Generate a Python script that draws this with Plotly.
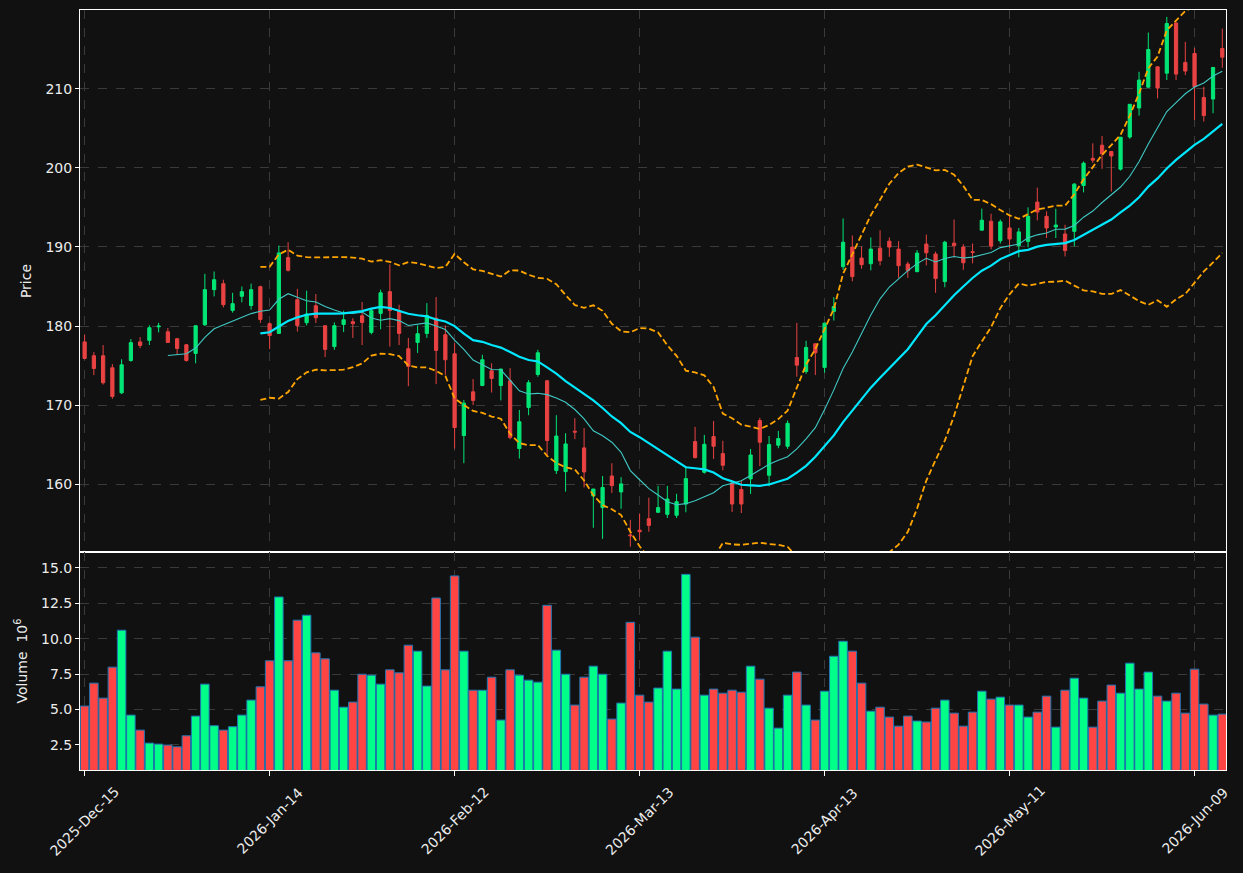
import numpy as np
import pandas as pd
import plotly.graph_objects as go
from plotly.subplots import make_subplots

# ---------------- data ----------------
tick_positions = [0, 20, 40, 60, 80, 100, 120]
tick_labels = ["2025-Dec-15", "2026-Jan-14", "2026-Feb-12", "2026-Mar-13",
               "2026-Apr-13", "2026-May-11", "2026-Jun-09"]

open_ = [178.0, 176.25, 176.25, 174.73, 171.56, 175.65, 178.0, 178.19, 179.9, 179.28,
         178.4, 177.64, 176.54, 180.17, 184.6, 185.36, 181.98, 183.76, 182.6, 184.98,
         180.3, 179.07, 188.65, 183.33, 180.42, 182.57, 180.04, 177.4, 180.2, 180.55,
         181.3, 179.2, 181.6, 184.35, 181.94, 177.13, 177.93, 179.07, 181.0, 178.9,
         176.5, 166.16, 171.69, 172.49, 174.35, 172.49, 173.08, 164.51, 169.7, 173.88,
         173.08, 161.73, 161.6, 166.7, 164.6, 158.52, 157.05, 161.05, 159.03, 153.6,
         154.2, 155.65, 156.46, 156.2, 156.08, 157.5, 165.4, 161.52, 166.03, 163.88,
         160.17, 159.33, 160.68, 168.06, 161.14, 164.94, 164.8, 176.03, 174.26, 177.76,
         174.77, 181.85, 187.5, 189.98, 188.6, 187.88, 189.85, 190.73, 189.73, 187.84,
         186.88, 190.36, 189.1, 185.62, 190.48, 189.98, 189.4, 192.12, 193.25, 190.78,
         192.4, 190.17, 190.7, 195.67, 193.87, 192.52, 191.64, 191.97, 197.77, 201.2,
         202.86, 202.06, 199.83, 203.9, 207.56, 210.2, 212.77, 211.97, 218.32, 213.32,
         214.45, 208.9, 208.7, 215.08]
high = [178.9, 176.7, 177.6, 175.2, 175.8, 178.35, 178.6, 180.1, 180.4, 179.75,
        178.5, 177.7, 180.1, 186.6, 186.9, 185.86, 184.2, 185.0, 185.36, 185.1,
        180.46, 190.17, 190.6, 184.7, 184.47, 184.05, 180.1, 180.46, 181.94, 181.0,
        183.04, 182.2, 184.6, 187.8, 182.7, 178.5, 180.08, 182.9, 183.67, 180.08,
        177.85, 170.67, 173.3, 176.37, 175.3, 174.6, 174.68, 169.4, 173.16, 177.0,
        173.2, 168.73, 166.46, 168.35, 167.1, 159.4, 161.05, 162.66, 160.9, 155.5,
        156.3, 158.3, 159.8, 159.8, 158.8, 162.3, 167.26, 166.24, 168.0, 165.5,
        160.2, 160.4, 164.47, 168.4, 166.1, 166.75, 168.06, 180.4, 178.14, 177.8,
        180.4, 183.65, 193.6, 191.45, 190.06, 191.2, 192.1, 191.2, 190.73, 188.13,
        189.6, 191.57, 189.4, 190.78, 193.46, 190.36, 190.44, 194.84, 194.2, 193.46,
        193.86, 192.4, 195.0, 197.5, 194.5, 194.83, 192.8, 198.07, 200.8, 203.1,
        204.03, 202.1, 203.9, 208.05, 212.14, 217.1, 212.8, 219.08, 218.35, 215.92,
        215.17, 210.25, 212.7, 217.6]
low = [175.8, 173.8, 172.6, 170.8, 171.4, 175.5, 177.2, 177.6, 179.2, 177.85,
       176.4, 175.5, 175.3, 180.0, 183.75, 182.36, 181.7, 183.0, 182.07, 180.4,
       177.1, 179.0, 186.9, 179.3, 180.08, 180.38, 176.08, 177.0, 179.24, 178.5,
       177.6, 178.95, 179.6, 177.4, 177.6, 172.4, 176.6, 178.5, 172.66, 173.84,
       164.5, 162.66, 170.0, 172.4, 171.6, 170.6, 165.7, 163.25, 168.73, 173.6,
       163.5, 161.3, 159.07, 165.7, 159.6, 154.5, 153.1, 158.9, 156.9, 152.1,
       152.95, 154.0, 156.4, 155.74, 155.74, 156.46, 163.25, 161.35, 163.2, 161.77,
       156.5, 156.37, 158.78, 162.3, 159.75, 164.56, 164.47, 173.6, 173.97, 173.8,
       174.1, 180.7, 187.1, 185.66, 187.25, 187.04, 187.67, 188.76, 186.1, 186.1,
       186.8, 187.67, 184.2, 184.9, 188.68, 187.1, 187.92, 192.1, 189.7, 190.44,
       189.87, 188.7, 189.96, 193.36, 191.13, 191.13, 188.8, 190.08, 196.9, 200.6,
       199.87, 197.0, 199.66, 203.66, 206.6, 210.1, 208.78, 211.1, 211.1, 211.72,
       206.05, 205.84, 206.9, 212.65]
close = [175.9, 174.64, 172.83, 171.1, 175.1, 177.9, 177.55, 179.79, 180.0, 177.93,
         177.17, 175.65, 180.04, 184.6, 185.86, 182.7, 182.83, 184.35, 184.6, 180.84,
         178.8, 189.24, 187.05, 180.08, 181.52, 181.05, 177.05, 180.04, 180.8, 180.3,
         180.46, 181.94, 184.2, 181.98, 179.07, 174.9, 179.03, 181.35, 176.92, 175.74,
         167.17, 170.25, 170.6, 175.74, 173.38, 174.56, 165.9, 167.9, 172.84, 176.62,
         165.53, 166.1, 165.1, 166.6, 161.56, 159.4, 159.6, 159.83, 160.05, 153.5,
         154.0, 154.8, 157.05, 158.14, 157.8, 160.72, 163.38, 165.05, 164.8, 162.4,
         157.5, 157.5, 163.7, 165.32, 165.02, 165.78, 167.7, 175.06, 177.3, 176.62,
         180.37, 182.47, 190.6, 186.25, 187.76, 189.73, 188.26, 189.98, 187.63, 187.0,
         189.22, 189.26, 186.0, 190.6, 190.15, 188.0, 189.3, 193.38, 190.1, 193.17,
         191.0, 191.9, 193.87, 194.41, 192.4, 192.77, 189.54, 197.94, 200.59, 200.97,
         201.76, 201.5, 203.87, 208.03, 211.09, 214.96, 210.08, 218.24, 211.85, 212.23,
         210.25, 206.6, 212.69, 213.99]
volume_millions = [5.24, 6.86, 5.8, 7.99, 10.6, 4.6, 3.54, 2.62, 2.55, 2.48,
                   2.36, 3.14, 4.53, 6.79, 3.85, 3.54, 3.78, 4.6, 5.66, 6.6,
                   8.44, 12.95, 8.44, 11.31, 11.66, 9.0, 8.58, 6.36, 5.16, 5.52,
                   7.49, 7.42, 6.79, 7.8, 7.59, 9.54, 9.12, 6.65, 12.88, 7.8,
                   14.44, 9.12, 6.36, 6.36, 7.28, 4.25, 7.8, 7.42, 7.07, 6.93,
                   12.36, 9.19, 7.49, 5.31, 7.28, 8.06, 7.49, 4.32, 5.45, 11.16,
                   6.01, 5.52, 6.51, 9.12, 6.44, 14.55, 10.11, 6.01, 6.44, 6.15,
                   6.36, 6.22, 8.06, 7.14, 5.09, 3.68, 6.01, 7.64, 5.31, 4.25,
                   6.29, 8.76, 9.82, 9.12, 6.86, 4.88, 5.16, 4.46, 3.82, 4.53,
                   4.18, 4.11, 5.09, 5.66, 4.74, 3.82, 4.81, 6.29, 5.73, 5.87,
                   5.31, 5.31, 4.46, 4.81, 5.94, 3.75, 6.36, 7.21, 5.8, 3.75,
                   5.59, 6.72, 6.15, 8.27, 6.44, 7.64, 5.94, 5.59, 6.15, 4.74,
                   7.85, 5.38, 4.6, 4.67]

# ---------------- styles ----------------
BG = "#111111"
TXT = "#ececec"
GRID = "#3a3a3a"
UP_C, DN_C = "#00e676", "#e84242"
UP_V, DN_V = "#00ff88", "#ff4444"
FONT = "DejaVu Sans"

n = len(close)
x = list(range(n))
s = pd.Series(close)
ma10 = s.rolling(10).mean()
ma20 = s.rolling(20).mean()
sd20 = s.rolling(20).std()
upper = ma20 + 2 * sd20
lower = ma20 - 2 * sd20

def valid(series):
    idx = [i for i in x if not np.isnan(series[i])]
    return idx, [float(series[i]) for i in idx]

fig = make_subplots(rows=2, cols=1, shared_xaxes=True, vertical_spacing=0,
                    row_heights=[542 / 760, 218 / 760])

fig.add_trace(go.Candlestick(
    x=x, open=open_, high=high, low=low, close=close,
    increasing=dict(line=dict(color=UP_C, width=1), fillcolor=UP_C),
    decreasing=dict(line=dict(color=DN_C, width=1), fillcolor=DN_C),
    whiskerwidth=0, showlegend=False, hoverinfo="skip"), row=1, col=1)

for ser, col, w, dash in [(upper, "#ffa500", 1.8, "6px,3px"),
                          (lower, "#ffa500", 1.8, "6px,3px"),
                          (ma10, "#3fc9c4", 1.1, "solid"),
                          (ma20, "#00e8ff", 2.2, "solid")]:
    xi, yi = valid(ser)
    fig.add_trace(go.Scatter(x=xi, y=yi, mode="lines",
                             line=dict(color=col, width=w, dash=dash),
                             showlegend=False, hoverinfo="skip"), row=1, col=1)

vcolors = [UP_V if c >= o else DN_V for o, c in zip(open_, close)]
fig.add_trace(go.Bar(x=x, y=volume_millions, marker=dict(color=vcolors,
                     line=dict(color="#1f77b4", width=1)),
                     showlegend=False, hoverinfo="skip"), row=2, col=1)

axis_common = dict(showline=True, linecolor="#ffffff", linewidth=1, mirror=True,
                   showgrid=True, gridcolor=GRID, griddash="dash", gridwidth=1,
                   zeroline=False, tickfont=dict(family=FONT, size=14, color=TXT),
                   ticks="outside", tickcolor="#ffffff", ticklen=4)

fig.update_xaxes(**axis_common, range=[-0.5, 123.4], tickmode="array",
                 tickvals=tick_positions, ticktext=tick_labels,
                 rangeslider_visible=False, showticklabels=False)
fig.update_xaxes(ticks="", row=1, col=1)
fig.update_xaxes(ticklen=5, row=2, col=1)

# date labels rotated 45 degrees, centred under each tick (matplotlib style)
for tv, tl in zip(tick_positions, tick_labels):
    fig.add_annotation(x=tv, xref="x2", y=0, yref="paper", text=tl,
                       textangle=-45, showarrow=False, xanchor="center",
                       yanchor="middle", yshift=-51,
                       font=dict(family=FONT, size=14, color=TXT))

fig.update_yaxes(**axis_common)
fig.update_yaxes(range=[151.44, 219.95], tickmode="array",
                 tickvals=[160, 170, 180, 190, 200, 210],
                 title=dict(text="Price", font=dict(family=FONT, size=14, color=TXT),
                            standoff=10), row=1, col=1)
fig.update_yaxes(range=[0.72, 16.13], tickmode="array",
                 tickvals=[2.5, 5.0, 7.5, 10.0, 12.5, 15.0], tickformat=".1f",
                 title=dict(text="Volume  10<sup>6</sup>",
                            font=dict(family=FONT, size=14, color=TXT), standoff=10),
                 row=2, col=1)

fig.update_layout(width=1243, height=873,
                  margin=dict(l=80, r=17, t=10, b=103),
                  paper_bgcolor=BG, plot_bgcolor=BG,
                  boxgap=0.5, bargap=0.08,
                  font=dict(family=FONT, size=14, color=TXT),
                  showlegend=False)

fig.write_html("out.html")
